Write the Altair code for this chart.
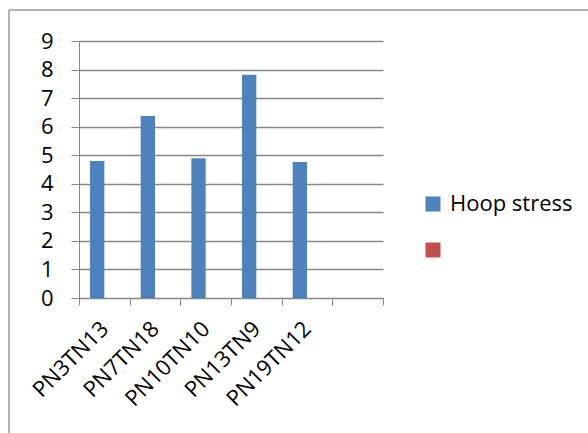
import altair as alt
import pandas as pd

# Sample identifiers and their hoop stress values
samples = ["PN3TN13", "PN7TN18", "PN10TN10", "PN13TN9", "PN19TN12"]
hoop_stress = [4.80, 6.37, 4.89, 7.82, 4.76]

# Category slots on the x axis (last slot is empty) and legend series
x_slots = samples + [" "]
series_names = ["Hoop stress", " "]
series_colors = ["#4F81BD", "#C0504D"]

FONT = "Open Sans"
GRID = "#878787"

df = pd.DataFrame({"sample": samples, "value": hoop_stress, "series": series_names[0]})

bars = alt.Chart(df).mark_bar().encode(
    x=alt.X(
        "sample:N",
        sort=x_slots,
        scale=alt.Scale(domain=x_slots, paddingInner=0, paddingOuter=0),
        axis=alt.Axis(
            title=None,
            tickBand="extent",
            labelAngle=-45,
            labelAlign="right",
            labelBaseline="middle",
            labelPadding=20,
            tickSize=7,
            tickColor=GRID,
            domainColor=GRID,
            labelFont=FONT,
            labelFontSize=22,
            labelColor="black",
            grid=False,
        ),
    ),
    xOffset=alt.XOffset(
        "series:N",
        scale=alt.Scale(domain=series_names, paddingInner=0, paddingOuter=0.77),
    ),
    y=alt.Y(
        "value:Q",
        scale=alt.Scale(domain=[0, 9], nice=False),
        axis=alt.Axis(
            title=None,
            values=list(range(10)),
            tickSize=8,
            tickColor=GRID,
            domainColor=GRID,
            gridColor=GRID,
            gridWidth=1.3,
            labelFont=FONT,
            labelFontSize=22,
            labelColor="black",
            labelPadding=18,
        ),
    ),
    color=alt.Color(
        "series:N",
        scale=alt.Scale(domain=series_names, range=series_colors),
        legend=alt.Legend(
            title=None,
            orient="none",
            legendX=343,
            legendY=152,
            symbolType="square",
            symbolSize=225,
            symbolStrokeWidth=0,
            labelFont=FONT,
            labelFontSize=22,
            labelColor="black",
            labelOffset=6,
            rowPadding=24,
        ),
    ),
)

# Outer chart frame: top and left edges (right and bottom lie past the canvas)
frame_style = dict(stroke="#9a9a9a", strokeWidth=1.5, clip=False)
frame_df = pd.DataFrame({"k": [0]})
frame_top = alt.Chart(frame_df).mark_rule(**frame_style).encode(
    x=alt.value(-70), x2=alt.value(600), y=alt.value(-31)
)
frame_left = alt.Chart(frame_df).mark_rule(**frame_style).encode(
    x=alt.value(-70), y=alt.value(-31), y2=alt.value(500)
)

chart = alt.layer(frame_top, frame_left, bars).properties(
    width=304,
    height=257,
    background="white",
    padding={"left": 79, "top": 41, "right": 205, "bottom": 135},
    autosize=alt.AutoSizeParams(type="none"),
).configure_view(strokeWidth=0, stroke=None)

chart.save("out.html", embed_options={"renderer": "svg", "actions": False})
